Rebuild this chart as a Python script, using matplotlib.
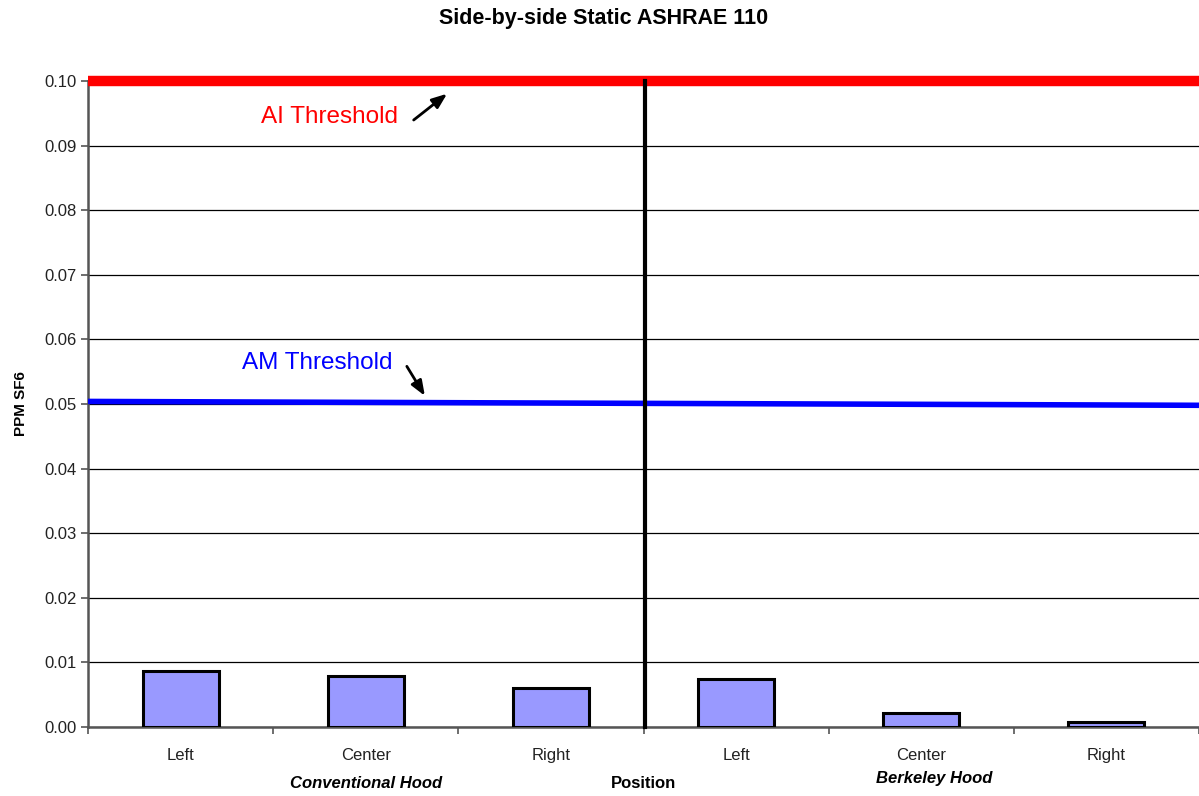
import numpy as np
import matplotlib.pyplot as plt
from matplotlib.ticker import FormatStrFormatter

plt.rcParams['font.family'] = ['Liberation Sans', 'DejaVu Sans']

# data
positions = ["Left", "Center", "Right", "Left", "Center", "Right"]
ppm_sf6 = [0.0087, 0.0079, 0.0060, 0.0074, 0.0022, 0.0008]
ai_threshold = [0.100, 0.100]
am_threshold = [0.0504, 0.0498]
groups = ["Conventional Hood", "Berkeley Hood"]
group_centers = [1.0, 4.07]

x = np.arange(len(positions))
fig = plt.figure(figsize=(11.99, 7.96), dpi=100)
ax = fig.add_axes([0.0734, 0.0867, 0.9266, 0.8115])

# bars
ax.bar(x, ppm_sf6, width=0.41, color="#9999FF", edgecolor="black", linewidth=2.2, zorder=3)

# threshold lines
ends = [x[0] - 0.5, x[-1] + 0.5]
ax.plot(ends, ai_threshold, color="#FF0000", linewidth=7.5, solid_capstyle="butt", clip_on=False, zorder=4)
ax.plot(ends, am_threshold, color="#0000FF", linewidth=4, solid_capstyle="butt", zorder=4)

# divider between the two hoods
ax.plot([2.51, 2.51], [0, 0.10], color="black", linewidth=3, clip_on=False, zorder=5)

# annotations
ax.text(0.805, 0.0944, "AI Threshold", color="#FF0000", fontsize=17.5, ha="center", va="center")
ax.annotate("", xy=(1.451, 0.0983), xytext=(1.247, 0.0937),
            arrowprops=dict(arrowstyle="-|>,head_length=0.9,head_width=0.35", color="black", lw=2))
ax.text(0.74, 0.0563, "AM Threshold", color="#0000FF", fontsize=17.5, ha="center", va="center")
ax.annotate("", xy=(1.327, 0.0509), xytext=(1.214, 0.0562),
            arrowprops=dict(arrowstyle="-|>,head_length=0.9,head_width=0.35", color="black", lw=2))

# axes styling
ax.set_xlim(-0.5, 5.5)
ax.set_ylim(0, 0.10)
ax.set_yticks(np.arange(0, 0.101, 0.01))
ax.yaxis.set_major_formatter(FormatStrFormatter("%.2f"))
ax.grid(axis="y", color="black", linewidth=0.9, zorder=0)
ax.set_axisbelow(True)
ax.set_xticks(x)
ax.set_xticklabels(positions)
ax.set_xticks(np.arange(-0.5, 6, 1), minor=True)
ax.tick_params(axis="x", which="major", length=0, pad=15, labelsize=12, colors="#222222")
ax.tick_params(axis="x", which="minor", length=5, width=1.2, color="#555555", direction="out")
ax.tick_params(axis="y", length=5, width=1.2, color="#555555", direction="out", pad=3, labelsize=12,
               labelcolor="#222222")
for s in ["top", "right"]:
    ax.spines[s].set_visible(False)
ax.spines["left"].set_color("#555555")
ax.spines["left"].set_linewidth(1.8)
ax.spines["bottom"].set_color("#555555")
ax.spines["bottom"].set_linewidth(1.8)

ax.set_ylabel("PPM SF6", fontsize=11, fontweight="bold", labelpad=12)
trans = ax.get_xaxis_transform()
ax.text(2.5, -0.088, "Position", transform=trans, ha="center", va="center", fontsize=12, fontweight="bold")
ax.text(group_centers[0], -0.088, groups[0], transform=trans, ha="center", va="center",
        fontsize=12, fontweight="bold", fontstyle="italic")
ax.text(group_centers[1], -0.079, groups[1], transform=trans, ha="center", va="center",
        fontsize=12, fontweight="bold", fontstyle="italic")

fig.text(0.503, 0.977, "Side-by-side Static ASHRAE 110", ha="center", va="center",
         fontsize=15.5, fontweight="bold")

fig.savefig("out.png", dpi=100)
